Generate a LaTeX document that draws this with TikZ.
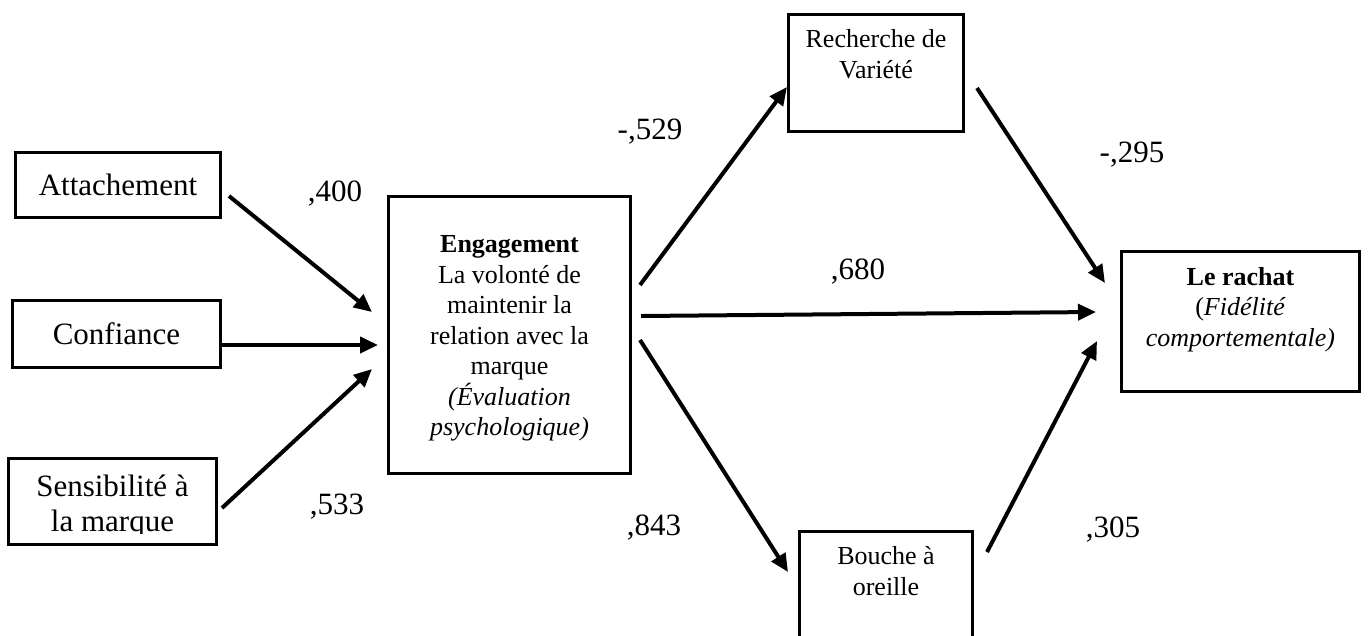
\documentclass[tikz,border=0pt]{standalone}
\usepackage{fontspec}
\setmainfont{Liberation Serif}
\usetikzlibrary{arrows.meta}
\begin{document}
\begin{tikzpicture}[x=1pt, y=-1pt,
  box/.style={draw, line width=3pt, inner sep=0pt},
  big/.style={font=\fontsize{31}{35}\selectfont},
  small/.style={font=\fontsize{26}{30.5}\selectfont},
  coef/.style={font=\fontsize{31}{35}\selectfont, inner sep=0pt},
  link/.style={line width=4pt, -{Triangle[length=18pt, width=16pt]}}]
\clip (0,0) rectangle (1368,635);

% antecedents
\node[box, big, minimum width=205pt, minimum height=65pt] (att) at (118,185) {Attachement};
\node[box, big, minimum width=208pt, minimum height=67pt] (conf) at (116.5,334) {Confiance};
\node[box, minimum width=208pt, minimum height=86pt] (sens) at (112.5,501.5) {};
\begin{scope}
  \clip (9,459) rectangle (216,533);
  \node[big, align=center, inner sep=0pt] (sens-t) at (112.5,507) {Sensibilité à\\la marque};
\end{scope}

% mediator
\node[box, minimum width=242pt, minimum height=277pt] (eng) at (509.5,335) {};
\node[small, align=center, inner sep=0pt] (eng-t) at (509.5,338.5)
  {\textbf{Engagement}\\La volonté de\\maintenir la\\relation avec la\\marque\\\textit{(Évaluation}\\\textit{psychologique)}};

% intermediate outcomes
\node[box, minimum width=175pt, minimum height=117pt] (rv) at (876,73) {};
\node[small, align=center, inner sep=0pt] (rv-t) at (876,54) {Recherche de\\Variété};
\node[box, minimum width=173pt, minimum height=150pt] (bo) at (886,606.5) {};
\node[small, align=center, inner sep=0pt] (bo-t) at (886,571) {Bouche à\\oreille};

% final outcome
\node[box, minimum width=238pt, minimum height=140pt] (lr) at (1240.5,321.5) {};
\node[small, align=center, inner sep=0pt] (lr-t) at (1240.5,309.5)
  {\textbf{Le rachat}\\(\textit{Fidélité}\\\textit{comportementale)}};

% connector end points
\coordinate (att-o) at (229,196);  \coordinate (eng-ia) at (372,312);
\coordinate (conf-o) at (222,345); \coordinate (eng-ic) at (378,345);
\coordinate (sens-o) at (222,508); \coordinate (eng-is) at (372,369);
\coordinate (eng-or) at (640,285); \coordinate (rv-i) at (787,87);
\coordinate (eng-ob) at (640,340); \coordinate (bo-i) at (788,572);
\coordinate (eng-ol) at (641,316); \coordinate (lr-ie) at (1096,312);
\coordinate (rv-o) at (977,88);    \coordinate (lr-ir) at (1105,283);
\coordinate (bo-o) at (987,552);   \coordinate (lr-ib) at (1097,341);

\draw[link] (att-o) -- (eng-ia);
\draw[link] (conf-o) -- (eng-ic);
\draw[link] (sens-o) -- (eng-is);
\draw[link] (eng-or) -- (rv-i);
\draw[link] (eng-ob) -- (bo-i);
\draw[link] (eng-ol) -- (lr-ie);
\draw[link] (rv-o) -- (lr-ir);
\draw[link] (bo-o) -- (lr-ib);

% path coefficients
\node[coef] (c-att) at (335,193.5) {,400};
\node[coef] (c-sens) at (337,507) {,533};
\node[coef] (c-rv) at (650,132) {-,529};
\node[coef] (c-lr) at (858,272) {,680};
\node[coef] (c-rvlr) at (1132,155) {-,295};
\node[coef] (c-bo) at (654,528) {,843};
\node[coef] (c-bolr) at (1113,530) {,305};
\end{tikzpicture}
\end{document}
